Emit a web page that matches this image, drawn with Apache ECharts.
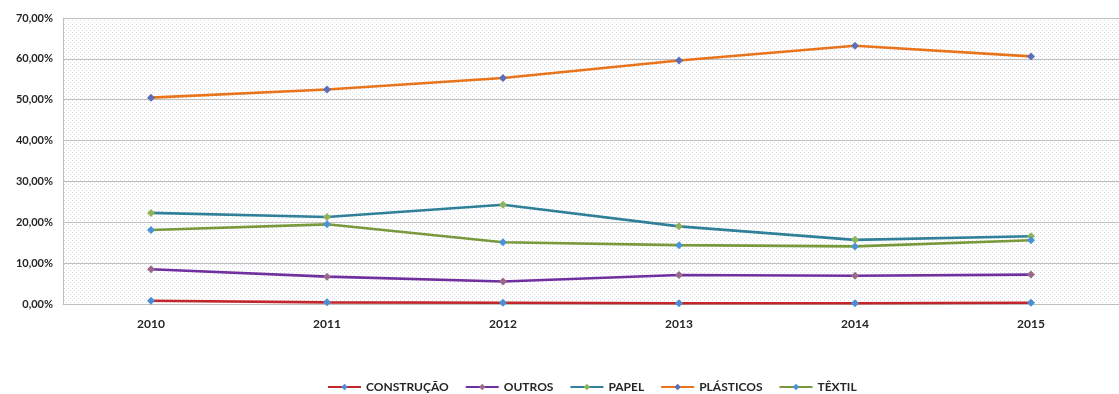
<!DOCTYPE html>
<html>
<head>
<meta charset="utf-8">
<script src="https://cdn.jsdelivr.net/npm/echarts@6/dist/echarts.min.js"></script>
<style>
  html, body { margin: 0; padding: 0; background: #ffffff; }
  #chart { width: 1119px; height: 394px; }
</style>
</head>
<body>
<div id="chart"></div>
<script>
// Shares by material, 2010–2015 (percent)
const years = ['2010', '2011', '2012', '2013', '2014', '2015'];
const construcao = [0.8, 0.4, 0.3, 0.2, 0.2, 0.3];
const outros     = [8.5, 6.7, 5.5, 7.1, 6.9, 7.2];
const papel      = [22.3, 21.3, 24.3, 19.0, 15.7, 16.6];
const plasticos  = [50.5, 52.5, 55.3, 59.6, 63.2, 60.6];
const textil     = [18.1, 19.5, 15.1, 14.4, 14.1, 15.6];
const yTicks = [0, 10, 20, 30, 40, 50, 60, 70];

// dotted fill for the plot area
function dotPattern() {
  const c = document.createElement('canvas');
  c.width = 4; c.height = 4;
  const g = c.getContext('2d');
  g.fillStyle = '#ffffff';
  g.fillRect(0, 0, 4, 4);
  g.fillStyle = '#d9dde3';
  g.fillRect(0, 0, 1, 1);
  g.fillRect(2, 2, 1, 1);
  return c;
}

const font = 'Lato, "Liberation Sans", sans-serif';

function lineSeries(name, data, lineColor, markerColor) {
  return {
    name: name,
    type: 'line',
    data: data,
    symbol: 'diamond',
    symbolSize: 8,
    showSymbol: true,
    lineStyle: { color: lineColor, width: 2.6 },
    itemStyle: { color: markerColor, borderWidth: 0 },
    emphasis: { disabled: true },
    z: 3
  };
}

const chart = echarts.init(document.getElementById('chart'), null, { renderer: 'canvas' });
chart.setOption({
  animation: false,
  backgroundColor: '#ffffff',
  grid: {
    left: 63, top: 18, width: 1062, height: 286,
    show: true,
    backgroundColor: { image: dotPattern(), repeat: 'repeat' },
    borderWidth: 0
  },
  legend: {
    top: 376,
    left: 322,
    itemWidth: 33,
    itemHeight: 8,
    itemGap: 16,
    textStyle: { fontFamily: font, fontWeight: 'bold', fontSize: 12, color: '#262626' },
    data: ['CONSTRUÇÃO', 'OUTROS', 'PAPEL', 'PLÁSTICOS', 'TÊXTIL']
  },
  xAxis: {
    type: 'category',
    data: years,
    boundaryGap: true,
    axisLine: { show: true, lineStyle: { color: '#bfbfbf', width: 1 } },
    axisTick: { show: false },
    axisLabel: { fontFamily: font, fontWeight: 'bold', fontSize: 12, color: '#262626', margin: 14 },
    splitLine: { show: false }
  },
  yAxis: {
    type: 'value',
    min: yTicks[0],
    max: yTicks[yTicks.length - 1],
    interval: 10,
    axisLine: { show: true, lineStyle: { color: '#bfbfbf', width: 1 } },
    axisTick: { show: false },
    axisLabel: {
      fontFamily: font, fontWeight: 'bold', fontSize: 11, color: '#262626', margin: 10,
      formatter: v => v.toFixed(2).replace('.', ',') + '%'
    },
    splitLine: { show: true, lineStyle: { color: '#bfbfbf', width: 1 } }
  },
  series: [
    lineSeries('CONSTRUÇÃO', construcao, '#c0262b', '#4a8fd6'),
    lineSeries('OUTROS', outros, '#7030a0', '#9a6a8c'),
    lineSeries('PAPEL', papel, '#31809a', '#8fb25a'),
    lineSeries('PLÁSTICOS', plasticos, '#e8741c', '#5b6fb8'),
    lineSeries('TÊXTIL', textil, '#7a983c', '#4a93d6')
  ]
});
</script>
</body>
</html>
